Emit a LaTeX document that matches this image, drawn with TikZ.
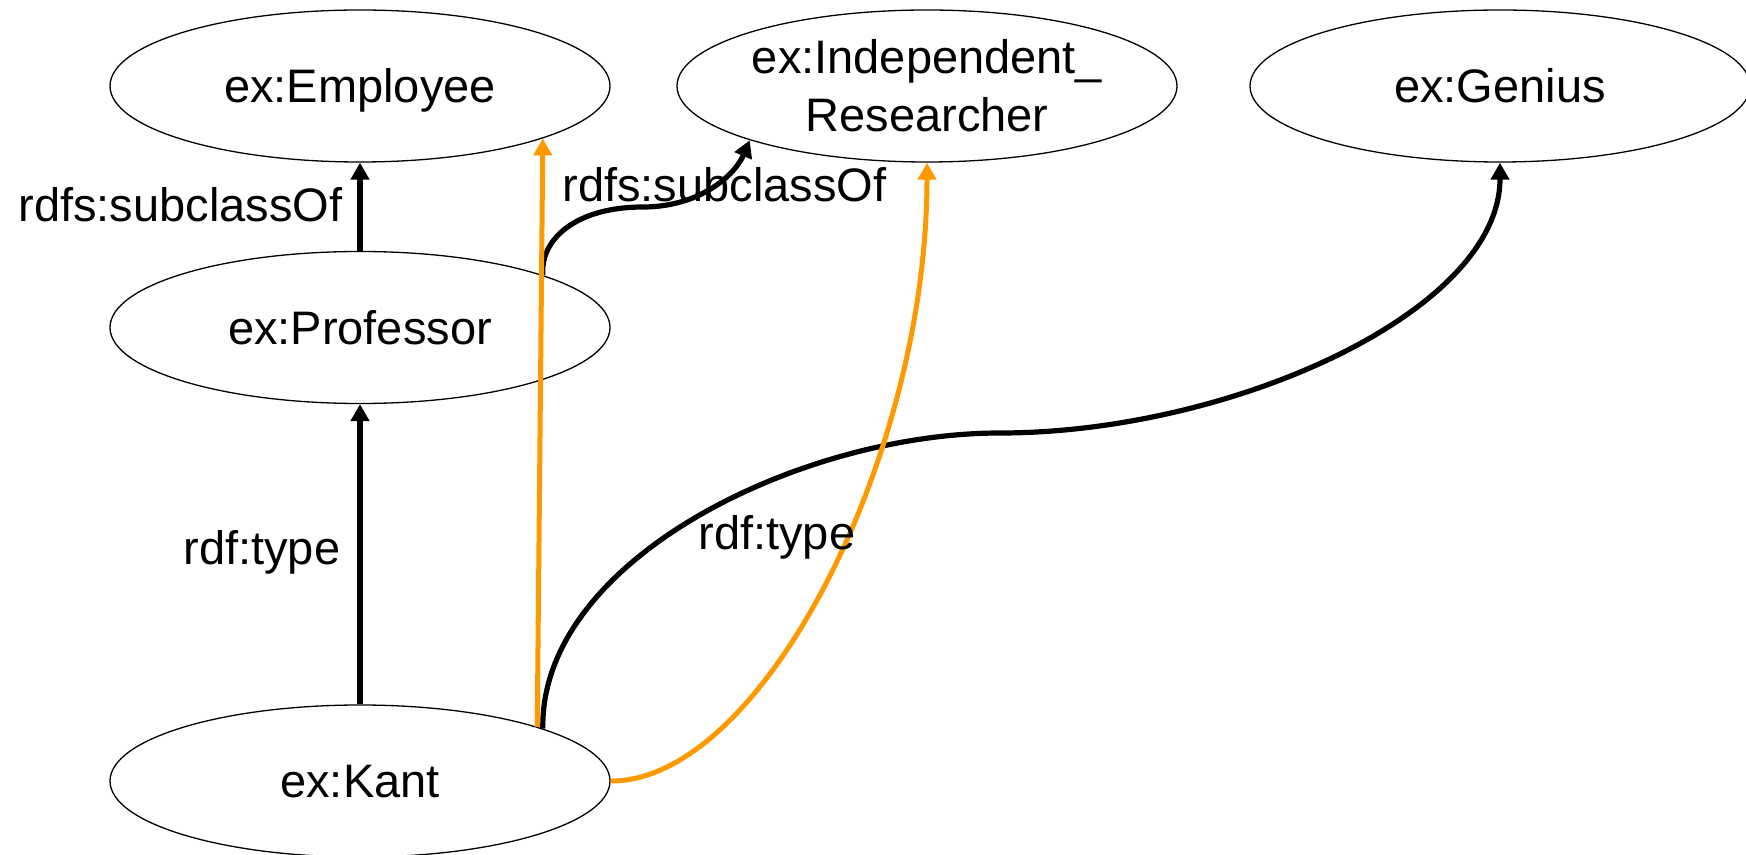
\documentclass[tikz,border=0pt]{standalone}
\usepackage{fontspec}
\setmainfont{Liberation Sans}
\usepackage{tikz}
\usetikzlibrary{arrows.meta,shapes.geometric}
\definecolor{infer}{RGB}{255,153,0}

\begin{document}
\begin{tikzpicture}[x=0.5pt,y=0.5pt,yscale=-1,xscale=1,
  font=\fontsize{23.5}{29}\selectfont,
  cls/.style={ellipse,draw,line width=0.65pt,minimum width=250pt,minimum height=76pt,inner sep=0pt},
  oneline/.style={text height=16.8pt,text depth=0pt},
  rel/.style={line width=2.6pt,-{Triangle[width=9pt,length=8.5pt]}},
  inf/.style={color=infer,line width=2.5pt,-{Triangle[width=9pt,length=8.5pt]}},
  lbl/.style={anchor=base west,inner sep=0pt}]
\useasboundingbox (0,0) rectangle (1746,855);

%Shape: Ellipse [classes]
\node[cls,oneline] (employee) at (360,86) {ex:Employee};
\node[cls,align=center] (indep) at (927,86) {ex:Independent\_\\Researcher};
\node[cls,oneline] (genius) at (1500,86) {ex:Genius};
\node[cls,oneline] (professor) at (360,327.5) {ex:Professor};
%Shape: Ellipse [instance]
\node[cls,oneline] (kant) at (360,781) {ex:Kant};

%Straight Lines
\draw[rel] (professor.north) -- (employee.south);
\draw[rel] (kant.north) -- (professor.south);
%Curve Lines
\draw[rel] (professor.16) .. controls (540,240) and (575,207) .. (643,207) .. controls (700,207) and (735,175) .. (indep.197);
\draw[rel] (kant.16.3) .. controls (540,560) and (800,433) .. (1000,433) .. controls (1230,433) and (1500,312) .. (genius.south);

%Inferred (orange)
\draw[inf] (kant.17.2) -- (employee.-16.8);
\draw[inf] (kant.east) .. controls (760,782) and (927,460) .. (indep.south);

%Labels
\node[lbl] (subA) at (18,222) {rdfs:subclassOf};
\node[lbl] (subB) at (562,202) {rdfs:subclassOf};
\node[lbl] (typeA) at (183,565) {rdf:type};
\node[lbl] (typeB) at (698,550) {rdf:type};

\end{tikzpicture}
\end{document}
